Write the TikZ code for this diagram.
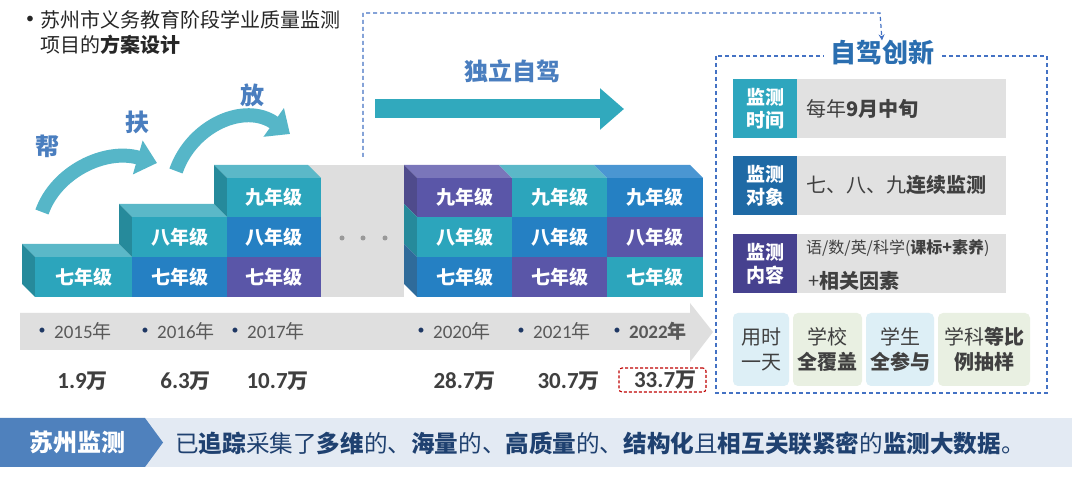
\documentclass[tikz,border=0pt]{standalone}
\usepackage{fontspec}
\setmainfont{Noto Sans CJK SC}
\newfontfamily\carl{Carlito}
\usetikzlibrary{arrows.meta,calc}
\definecolor{cteal}{HTML}{2CA5BC}
\definecolor{cblu}{HTML}{2580C3}
\definecolor{cpur}{HTML}{5A56A8}
\definecolor{ctealtop}{HTML}{5BB8C8}
\definecolor{cblutop}{HTML}{4A96D2}
\definecolor{cpurtop}{HTML}{7A76BA}
\definecolor{ctealside}{HTML}{268A9B}
\definecolor{cbluside}{HTML}{2F6B9A}
\definecolor{cpurside}{HTML}{4F4B8C}
\definecolor{carr}{HTML}{56B6C8}
\definecolor{sarr}{HTML}{31A9BD}
\definecolor{lblue}{HTML}{4A7EBF}
\definecolor{ttlblue}{HTML}{2A6EB0}
\definecolor{dblue}{HTML}{4472C4}
\definecolor{cgray}{HTML}{DEDEDE}
\definecolor{rowa}{HTML}{2EA6BE}
\definecolor{rowb}{HTML}{1F6AA5}
\definecolor{rowc}{HTML}{46418F}
\definecolor{rowbg}{HTML}{E1E1E1}
\definecolor{sbblue}{HTML}{DDEFF6}
\definecolor{sbgreen}{HTML}{E9F0E2}
\definecolor{tlgray}{HTML}{DFDFDF}
\definecolor{cnavy}{HTML}{1F3864}
\definecolor{yrtext}{HTML}{595959}
\definecolor{valtext}{HTML}{3F3F3F}
\definecolor{cred}{HTML}{C00000}
\definecolor{cband}{HTML}{E3EAF3}
\definecolor{cchev}{HTML}{4F81BD}
\definecolor{bandtext}{HTML}{1F4170}
\definecolor{darktext}{HTML}{404040}
\newcommand\fsz[1]{\fontsize{#1}{#1}\selectfont}
\begin{document}
\begin{tikzpicture}[x=1pt,y=-1pt,
  blk/.style={anchor=north west, inner sep=0pt, minimum width=95pt, minimum height=40pt, text=white, font=\fsz{19}\bfseries},
  lbl/.style={text=lblue, font=\fsz{24}\bfseries},
  carrow/.style={line width=14pt, draw=carr, -{Triangle[width=34pt,length=20pt]}},
  dconn/.style={draw=dblue, line width=1.2pt, dash pattern=on 4pt off 3pt},
  rowlbl/.style={anchor=north west, inner sep=0pt, minimum width=64pt, minimum height=59pt, text=white, align=center, font=\fontsize{19}{23}\selectfont\bfseries},
  rowbox/.style={anchor=north west, inner sep=0pt, minimum width=209pt, minimum height=59pt, fill=rowbg},
  rowtxt/.style={anchor=west, inner sep=0pt, text=darktext, font=\fsz{20}},
  sbox/.style={rounded corners=5pt, minimum height=73pt, inner sep=0pt, align=center, text=darktext, font=\fontsize{20}{25}\selectfont},
  yrb/.style={text=cnavy, inner sep=0pt, font=\carl\fsz{14}},
  yrt/.style={anchor=west, inner sep=0pt, text=yrtext, font=\fsz{19}},
  val/.style={text=valtext, inner sep=0pt, font=\fsz{21}\bfseries}
]
\useasboundingbox (0,0) rectangle (1080,478);
\fill[white] (0,0) rectangle (1080,478);

% title
\node[inner sep=0pt, text=black!85, font=\carl\fsz{16}] (tbul) at (30,20) {•};
\node[anchor=west, inner sep=0pt, text=black!85, font=\fsz{20}] (title1) at (40,20) {苏州市义务教育阶段学业质量监测};
\node[anchor=west, inner sep=0pt, text=black!85, font=\fsz{20}] (title2) at (40,45) {项目的\textbf{方案设计}};

% dashed connector
\coordinate (dstart) at (363,157);
\coordinate (dtop) at (880,13);

% gray background of dots
\fill[cgray] (309,165) rectangle (404,297);
\node[circle, fill=gray!80, inner sep=0pt, minimum size=5pt] (dot1) at (342,238) {};
\node[circle, fill=gray!80, inner sep=0pt, minimum size=5pt] (dot2) at (363,238) {};
\node[circle, fill=gray!80, inner sep=0pt, minimum size=5pt] (dot3) at (385,238) {};

% step 1
\fill[ctealtop] (35,257) -- (132,257) -- (119,244) -- (22,244) -- cycle;
\fill[ctealside] (22,244) -- (35,257) -- (35,297) -- (22,284) -- cycle;
\node[blk, fill=cteal, minimum width=97pt] (s1a) at (35,257) {七年级};
% step 2
\fill[ctealtop] (132,217) -- (227,217) -- (214,204) -- (119,204) -- cycle;
\fill[ctealside] (119,204) -- (132,217) -- (132,257) -- (119,244) -- cycle;
\node[blk, fill=cteal] (s2b) at (132,217) {八年级};
\node[blk, fill=cblu] (s2a) at (132,257) {七年级};
% step 3
\fill[ctealtop] (227,178) -- (321,178) -- (308,165) -- (214,165) -- cycle;
\fill[ctealside] (214,165) -- (227,178) -- (227,217) -- (214,204) -- cycle;
\node[blk, fill=cteal, minimum width=94pt, minimum height=39pt] (s3c) at (227,178) {九年级};
\node[blk, fill=cblu, minimum width=94pt] (s3b) at (227,217) {八年级};
\node[blk, fill=cpur, minimum width=94pt] (s3a) at (227,257) {七年级};

% big block
\fill[cpurtop] (417,178) -- (512,178) -- (499,165) -- (404,165) -- cycle;
\fill[ctealtop] (512,178) -- (607,178) -- (594,165) -- (499,165) -- cycle;
\fill[cblutop] (607,178) -- (703,178) -- (690,165) -- (594,165) -- cycle;
\fill[cpurside] (404,165) -- (417,178) -- (417,217) -- (404,204) -- cycle;
\fill[ctealside] (404,204) -- (417,217) -- (417,257) -- (404,244) -- cycle;
\fill[cbluside] (404,244) -- (417,257) -- (417,297) -- (404,284) -- cycle;
\node[blk, fill=cpur, minimum height=39pt] (b1c) at (417,178) {九年级};
\node[blk, fill=cteal] (b1b) at (417,217) {八年级};
\node[blk, fill=cblu] (b1a) at (417,257) {七年级};
\node[blk, fill=cteal, minimum height=39pt] (b2c) at (512,178) {九年级};
\node[blk, fill=cblu] (b2b) at (512,217) {八年级};
\node[blk, fill=cpur] (b2a) at (512,257) {七年级};
\node[blk, fill=cblu, minimum width=96pt, minimum height=39pt] (b3c) at (607,178) {九年级};
\node[blk, fill=cpur, minimum width=96pt] (b3b) at (607,217) {八年级};
\node[blk, fill=cteal, minimum width=96pt] (b3a) at (607,257) {七年级};

% curved arrows and labels
\coordinate (a1s) at (42,212);
\coordinate (a1e) at (157,163);
\draw[carrow] (a1s) .. controls (56,172) and (105,148) .. (a1e);
\coordinate (a2s) at (176,171);
\coordinate (a2e) at (290,134);
\draw[carrow] (a2s) .. controls (192,125) and (245,102) .. (a2e);
\node[lbl] (bang) at (47,146) {帮};
\node[lbl] (fu) at (137,122) {扶};
\node[lbl] (fang) at (252,95) {放};

% straight arrow
\node[lbl] (duli) at (512,71) {独立自驾};
\coordinate (sas) at (375,109);
\coordinate (sae) at (624,109);
\draw[line width=19pt, draw=sarr, -{Triangle[width=40pt,length=24pt]}] (sas) -- (sae);

% timeline
\fill[tlgray] (20,313) -- (690,313) -- (690,303) -- (713,332) -- (690,362) -- (690,350) -- (20,350) -- cycle;
\node[yrb] (yb1) at (42,331) {•};
\node[yrt] (y1) at (54,331) {{\carl 2015}年};
\node[yrb] (yb2) at (145,331) {•};
\node[yrt] (y2) at (157,331) {{\carl 2016}年};
\node[yrb] (yb3) at (235,331) {•};
\node[yrt] (y3) at (247,331) {{\carl 2017}年};
\node[yrb] (yb4) at (421,331) {•};
\node[yrt] (y4) at (433,331) {{\carl 2020}年};
\node[yrb] (yb5) at (521,331) {•};
\node[yrt] (y5) at (533,331) {{\carl 2021}年};
\node[yrb] (yb6) at (617,331) {•};
\node[yrt, font=\fsz{19}\bfseries] (y6) at (629,331) {{\carl\bfseries 2022}年};

\node[val] (v1) at (80,381) {{\carl\bfseries\fsz{23} 1.9}万};
\node[val] (v2) at (183,381) {{\carl\bfseries\fsz{23} 6.3}万};
\node[val] (v3) at (275,381) {{\carl\bfseries\fsz{23} 10.7}万};
\node[val] (v4) at (462,381) {{\carl\bfseries\fsz{23} 28.7}万};
\node[val] (v5) at (566,381) {{\carl\bfseries\fsz{23} 30.7}万};
\node[val, draw=cred, line width=1.1pt, dash pattern=on 3pt off 2pt, rounded corners=3pt, minimum width=87pt, minimum height=24pt] (v6) at (662.5,380) {{\carl\bfseries\fsz{23} 33.7}万};

% right box
\draw[dconn] (716,56) rectangle (1047,393);
\node[fill=white, inner xsep=6pt, inner ysep=0pt, text=ttlblue, font=\fsz{26}\bfseries] (zjcx) at (882,53) {自驾创新};
\draw[dconn, -{Stealth[length=6pt,width=6pt]}] (dstart) |- (dtop) -- (zjcx.north);

\node[rowbox] (r1) at (797,79) {};
\node[rowlbl, fill=rowa] (l1) at (733,79) {监测\\时间};
\node[rowtxt] (t1) at (806,108.5) {每年\textbf{9月中旬}};
\node[rowbox] (r2) at (797,156) {};
\node[rowlbl, fill=rowb] (l2) at (733,156) {监测\\对象};
\node[rowtxt] (t2) at (806,185.5) {七、八、九\textbf{连续监测}};
\node[rowbox] (r3) at (797,234) {};
\node[rowlbl, fill=rowc] (l3) at (733,234) {监测\\内容};
\node[rowtxt, font=\fsz{16}] (t3a) at (806,248) {语/数/英/科学(\textbf{课标+素养})};
\node[rowtxt] (t3b) at (808,281) {+\textbf{相关因素}};

\node[sbox, fill=sbblue, minimum width=56pt] (sb1) at (761,349.5) {用时\\一天};
\node[sbox, fill=sbgreen, minimum width=69pt] (sb2) at (827.5,349.5) {学校\\\textbf{全覆盖}};
\node[sbox, fill=sbblue, minimum width=68pt] (sb3) at (900,349.5) {学生\\\textbf{全参与}};
\node[sbox, fill=sbgreen, minimum width=92pt] (sb4) at (984,349.5) {学科\textbf{等比}\\\textbf{例抽样}};

% bottom band
\fill[cband] (0,418) rectangle (1072,467);
\fill[cchev] (0,418) -- (145,418) -- (163,442.5) -- (145,467) -- (0,467) -- cycle;
\node[text=white, font=\fsz{24}\bfseries] (szjc) at (78,442.5) {苏州监测};
\node[anchor=west, inner sep=0pt, text=bandtext, font=\fsz{23.6}] (btxt) at (175,443) {已\textbf{追踪}采集了\textbf{多维}的、\textbf{海量}的、\textbf{高质量}的、\textbf{结构化}且\textbf{相互关联紧密}的\textbf{监测大数据}。};
\end{tikzpicture}
\end{document}
